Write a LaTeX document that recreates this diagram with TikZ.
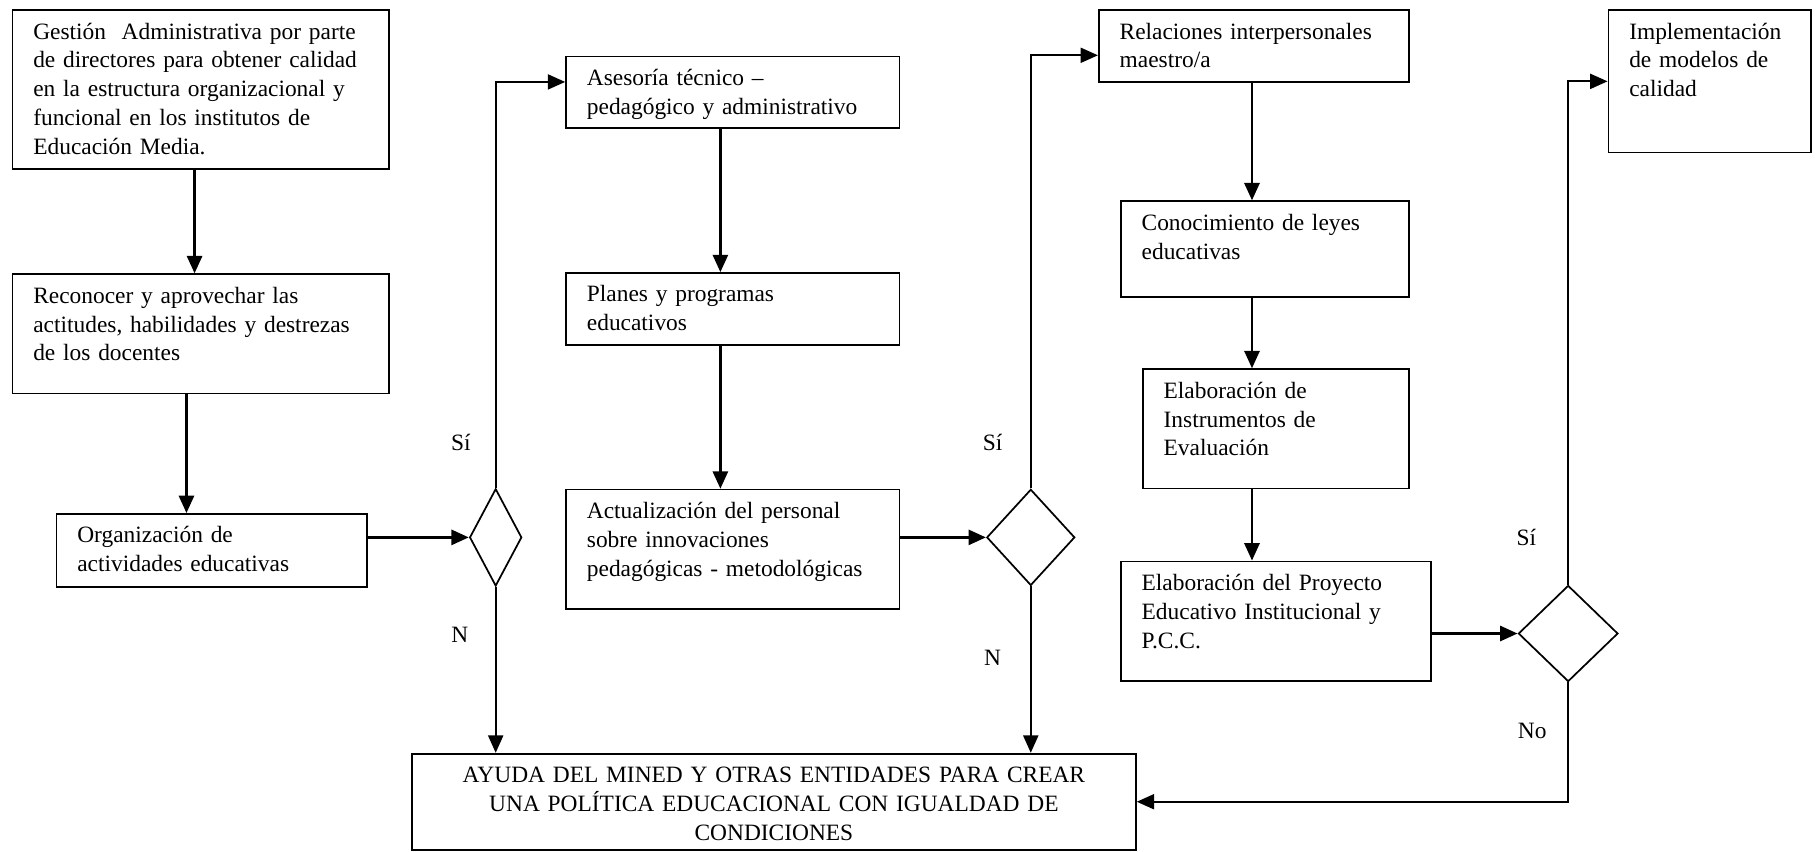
\documentclass[tikz,border=0pt]{standalone}
\usepackage{fontspec}
\setmainfont{Liberation Serif}
\usetikzlibrary{shapes.geometric,arrows.meta}

\begin{document}
\begin{tikzpicture}[%
procbox/.style={rectangle,draw=black,line width=0.85pt,anchor=north west,align=left,
  inner xsep=0pt,inner ysep=0.2cm,text height=0.3cm,execute at begin node={\leftskip=0.36cm}},
ayudabox/.style={rectangle,draw=black,line width=0.85pt,anchor=north west,align=center,
  inner xsep=0pt,inner ysep=0.2cm,text height=0.3cm},
decision/.style={diamond,draw=black,line width=0.85pt,inner sep=0pt},
flowarrow/.style={draw,line width=1.3pt,-{Triangle[length=0.3cm,width=0.26cm]}},
branch/.style={draw,line width=0.9pt,-{Triangle[length=0.3cm,width=0.26cm]}},
answer/.style={inner sep=0pt},
every node/.style={font=\fontsize{11.5}{14.2}\selectfont}]
\useasboundingbox (0,0) rectangle (31.36,-14.7);

% primera columna
\node[procbox,text width=6.5cm,text depth=2.04cm] (gestion) at (0.20,-0.16)
  {Gestión~ Administrativa por parte\\de directores para obtener calidad\\en la estructura organizacional y\\funcional en los institutos de\\Educación Media.};
\node[procbox,text width=6.5cm,text depth=1.36cm] (reconocer) at (0.20,-4.72)
  {Reconocer y aprovechar las\\actitudes, habilidades y destrezas\\de los docentes};
\node[procbox,text width=5.36cm,text depth=0.56cm] (organizacion) at (0.96,-8.86)
  {Organización de\\actividades educativas};
\node[decision,minimum width=0.9cm,minimum height=1.68cm] (dec1) at (8.56,-9.28) {};

% segunda columna
\node[procbox,text width=5.76cm,text depth=0.54cm] (asesoria) at (9.76,-0.96)
  {Asesoría técnico –\\pedagógico y administrativo};
\node[procbox,text width=5.76cm,text depth=0.54cm] (planes) at (9.76,-4.70)
  {Planes y programas\\educativos};
\node[procbox,text width=5.76cm,text depth=1.36cm] (actualizacion) at (9.76,-8.44)
  {Actualización del personal\\sobre innovaciones\\pedagógicas - metodológicas};
\node[decision,minimum width=1.52cm,minimum height=1.66cm] (dec2) at (17.8,-9.28) {};

% tercera columna
\node[procbox,text width=5.36cm,text depth=0.54cm] (relaciones) at (18.96,-0.16)
  {Relaciones interpersonales\\maestro/a};
\node[procbox,text width=4.98cm,text depth=0.96cm] (conocimiento) at (19.34,-3.46)
  {Conocimiento de leyes\\educativas};
\node[procbox,text width=4.6cm,text depth=1.36cm] (instrumentos) at (19.72,-6.36)
  {Elaboración de\\Instrumentos de\\Evaluación};
\node[procbox,text width=5.36cm,text depth=1.36cm] (proyecto) at (19.34,-9.68)
  {Elaboración del Proyecto\\Educativo Institucional y\\P.C.C.};
\node[decision,minimum width=1.72cm,minimum height=1.66cm] (dec3) at (27.08,-10.94) {};
\node[procbox,text width=3.5cm,text depth=1.76cm] (implementacion) at (27.76,-0.16)
  {Implementación\\de modelos de\\calidad};

% salida comun
\node[ayudabox,text width=12.5cm,text depth=0.96cm] (ayuda) at (7.10,-13.0)
  {AYUDA DEL MINED Y OTRAS ENTIDADES PARA CREAR\\UNA POLÍTICA EDUCACIONAL CON IGUALDAD DE\\CONDICIONES};

% respuestas
\node[answer] (si1) at (7.96,-7.64) {Sí};
\node[answer] (n1) at (7.94,-10.96) {N};
\node[answer] (si2) at (17.14,-7.64) {Sí};
\node[answer] (n2) at (17.14,-11.36) {N};
\node[answer] (si3) at (26.36,-9.28) {Sí};
\node[answer] (no3) at (26.46,-12.62) {No};

\coordinate (xa) at (3.36,0);
\coordinate (xb) at (3.22,0);
\coordinate (xc) at (12.44,0);
\coordinate (xd) at (21.62,0);

\draw[flowarrow] (gestion.south -| xa) -- (reconocer.north -| xa);
\draw[flowarrow] (reconocer.south -| xb) -- (organizacion.north -| xb);
\draw[flowarrow] (organizacion.east |- dec1.west) -- (dec1.west);
\draw[branch] (dec1.north) |- ([yshift=0.18cm]asesoria.west);
\draw[branch] (dec1.south) -- (dec1.south |- ayuda.north);

\draw[flowarrow] (asesoria.south -| xc) -- (planes.north -| xc);
\draw[flowarrow] (planes.south -| xc) -- (actualizacion.north -| xc);
\draw[flowarrow] (actualizacion.east |- dec2.west) -- (dec2.west);
\draw[branch] (dec2.north) |- ([yshift=-0.16cm]relaciones.west);
\draw[branch] (dec2.south) -- (dec2.south |- ayuda.north);

\draw[flowarrow] (relaciones.south -| xd) -- (conocimiento.north -| xd);
\draw[flowarrow] (conocimiento.south -| xd) -- (instrumentos.north -| xd);
\draw[flowarrow] (instrumentos.south -| xd) -- (proyecto.north -| xd);
\draw[flowarrow] (proyecto.east |- dec3.west) -- (dec3.west);
\draw[branch] (dec3.north) |- (implementacion.west);
\draw[branch] (dec3.south) |- (ayuda.east);
\end{tikzpicture}
\end{document}
